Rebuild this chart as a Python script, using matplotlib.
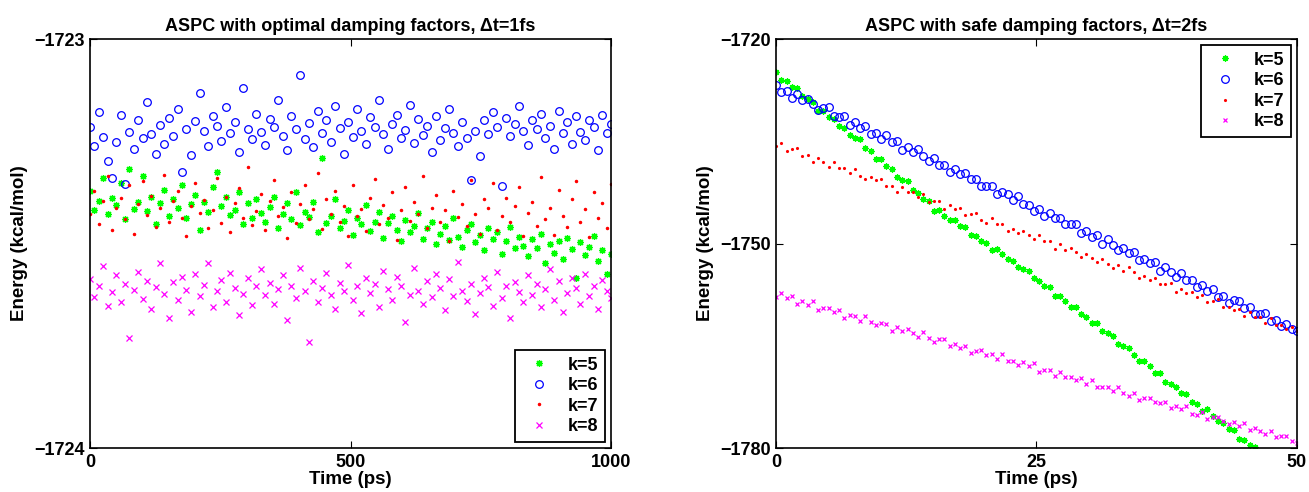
import numpy as np
import matplotlib.pyplot as plt

plt.rcParams['font.family'] = ['Liberation Sans', 'DejaVu Sans']
plt.rcParams['font.weight'] = 'bold'

# ---- left panel: optimal damping, dt = 1 fs (energy, kcal/mol) ----
k5_left = [-1723.372, -1723.418, -1723.395, -1723.341, -1723.427, -1723.388, -1723.406, -1723.352, -1723.441, -1723.318,
           -1723.415, -1723.398, -1723.334, -1723.421, -1723.386, -1723.452, -1723.402, -1723.369, -1723.433, -1723.391,
           -1723.412, -1723.357, -1723.438, -1723.404, -1723.381, -1723.466, -1723.398, -1723.423, -1723.362, -1723.325,
           -1723.409, -1723.387, -1723.431, -1723.418, -1723.373, -1723.452, -1723.402, -1723.437, -1723.392, -1723.425,
           -1723.448, -1723.411, -1723.386, -1723.463, -1723.429, -1723.402, -1723.441, -1723.374, -1723.455, -1723.423,
           -1723.436, -1723.398, -1723.472, -1723.290, -1723.449, -1723.432, -1723.391, -1723.461, -1723.444, -1723.419,
           -1723.478, -1723.437, -1723.452, -1723.406, -1723.469, -1723.448, -1723.424, -1723.487, -1723.451, -1723.433,
           -1723.466, -1723.495, -1723.442, -1723.471, -1723.458, -1723.425, -1723.489, -1723.463, -1723.447, -1723.502,
           -1723.476, -1723.458, -1723.491, -1723.437, -1723.484, -1723.509, -1723.468, -1723.452, -1723.497, -1723.479,
           -1723.515, -1723.463, -1723.488, -1723.471, -1723.526, -1723.494, -1723.459, -1723.512, -1723.483, -1723.505,
           -1723.531, -1723.489, -1723.512, -1723.476, -1723.547, -1723.501, -1723.523, -1723.495, -1723.538, -1723.486,
           -1723.514, -1723.585, -1723.497, -1723.528, -1723.509, -1723.481, -1723.543, -1723.516, -1723.575, -1723.526]
k6_left = [-1723.215, -1723.262, -1723.178, -1723.240, -1723.298, -1723.340, -1723.251, -1723.186, -1723.355, -1723.227,
           -1723.268, -1723.199, -1723.243, -1723.155, -1723.232, -1723.281, -1723.210, -1723.257, -1723.192, -1723.236,
           -1723.171, -1723.325, -1723.219, -1723.284, -1723.201, -1723.133, -1723.226, -1723.262, -1723.188, -1723.213,
           -1723.250, -1723.167, -1723.231, -1723.204, -1723.276, -1723.120, -1723.219, -1723.245, -1723.183, -1723.228,
           -1723.258, -1723.196, -1723.214, -1723.150, -1723.237, -1723.272, -1723.188, -1723.221, -1723.088, -1723.244,
           -1723.206, -1723.263, -1723.175, -1723.229, -1723.199, -1723.252, -1723.164, -1723.218, -1723.281, -1723.203,
           -1723.239, -1723.172, -1723.226, -1723.257, -1723.191, -1723.214, -1723.148, -1723.233, -1723.269, -1723.207,
           -1723.185, -1723.242, -1723.223, -1723.161, -1723.254, -1723.196, -1723.235, -1723.212, -1723.277, -1723.189,
           -1723.246, -1723.218, -1723.171, -1723.229, -1723.262, -1723.203, -1723.241, -1723.345, -1723.224, -1723.287,
           -1723.199, -1723.233, -1723.178, -1723.216, -1723.360, -1723.192, -1723.238, -1723.208, -1723.163, -1723.226,
           -1723.259, -1723.197, -1723.221, -1723.184, -1723.243, -1723.212, -1723.268, -1723.175, -1723.231, -1723.204,
           -1723.256, -1723.189, -1723.227, -1723.246, -1723.198, -1723.214, -1723.271, -1723.185, -1723.229, -1723.208]
k7_left = [-1723.428, -1723.371, -1723.452, -1723.395, -1723.336, -1723.467, -1723.412, -1723.389, -1723.441, -1723.358,
           -1723.476, -1723.403, -1723.347, -1723.431, -1723.385, -1723.459, -1723.414, -1723.332, -1723.448, -1723.396,
           -1723.372, -1723.437, -1723.481, -1723.409, -1723.353, -1723.426, -1723.394, -1723.462, -1723.418, -1723.341,
           -1723.449, -1723.387, -1723.473, -1723.402, -1723.364, -1723.437, -1723.312, -1723.455, -1723.421, -1723.380,
           -1723.468, -1723.397, -1723.344, -1723.432, -1723.410, -1723.486, -1723.375, -1723.451, -1723.403, -1723.358,
           -1723.439, -1723.416, -1723.327, -1723.464, -1723.392, -1723.428, -1723.371, -1723.447, -1723.409, -1723.482,
           -1723.356, -1723.433, -1723.415, -1723.469, -1723.388, -1723.342, -1723.452, -1723.406, -1723.437, -1723.374,
           -1723.491, -1723.418, -1723.361, -1723.445, -1723.399, -1723.427, -1723.336, -1723.463, -1723.412, -1723.381,
           -1723.448, -1723.419, -1723.495, -1723.372, -1723.436, -1723.403, -1723.458, -1723.345, -1723.427, -1723.477,
           -1723.391, -1723.414, -1723.353, -1723.466, -1723.432, -1723.388, -1723.447, -1723.409, -1723.362, -1723.481,
           -1723.425, -1723.398, -1723.456, -1723.337, -1723.441, -1723.412, -1723.478, -1723.369, -1723.433, -1723.459,
           -1723.392, -1723.347, -1723.448, -1723.416, -1723.484, -1723.374, -1723.438, -1723.402, -1723.463, -1723.355]
k8_left = [-1723.587, -1723.631, -1723.604, -1723.556, -1723.652, -1723.619, -1723.578, -1723.642, -1723.598, -1723.731,
           -1723.613, -1723.569, -1723.636, -1723.592, -1723.661, -1723.607, -1723.548, -1723.624, -1723.683, -1723.595,
           -1723.638, -1723.582, -1723.613, -1723.667, -1723.574, -1723.629, -1723.601, -1723.548, -1723.656, -1723.617,
           -1723.590, -1723.642, -1723.571, -1723.608, -1723.676, -1723.623, -1723.585, -1723.651, -1723.604, -1723.563,
           -1723.627, -1723.596, -1723.649, -1723.612, -1723.578, -1723.688, -1723.605, -1723.633, -1723.559, -1723.617,
           -1723.742, -1723.591, -1723.644, -1723.608, -1723.572, -1723.626, -1723.661, -1723.597, -1723.615, -1723.552,
           -1723.638, -1723.603, -1723.671, -1723.584, -1723.622, -1723.598, -1723.655, -1723.567, -1723.612, -1723.639,
           -1723.581, -1723.604, -1723.693, -1723.627, -1723.559, -1723.616, -1723.648, -1723.592, -1723.631, -1723.574,
           -1723.609, -1723.662, -1723.587, -1723.628, -1723.546, -1723.615, -1723.641, -1723.598, -1723.673, -1723.621,
           -1723.584, -1723.607, -1723.652, -1723.569, -1723.633, -1723.605, -1723.682, -1723.594, -1723.618, -1723.643,
           -1723.577, -1723.626, -1723.598, -1723.654, -1723.612, -1723.563, -1723.637, -1723.591, -1723.668, -1723.622,
           -1723.585, -1723.609, -1723.647, -1723.574, -1723.629, -1723.603, -1723.661, -1723.588, -1723.616, -1723.632]

# ---- right panel: safe damping, dt = 2 fs ----
k5_right = [-1724.9, -1726.0, -1726.2, -1727.1, -1727.2, -1728.4, -1728.8, -1729.2, -1730.5, -1730.6,
            -1731.5, -1731.7, -1732.7, -1733.0, -1734.1, -1734.5, -1734.7, -1736.0, -1736.4, -1737.6,
            -1737.6, -1738.7, -1739.1, -1740.3, -1740.7, -1740.9, -1742.2, -1742.6, -1743.5, -1743.8,
            -1745.2, -1745.1, -1745.9, -1746.6, -1746.6, -1747.5, -1747.6, -1748.8, -1748.9, -1749.7,
            -1749.9, -1751.0, -1750.8, -1751.6, -1752.3, -1752.5, -1753.5, -1753.7, -1754.0, -1755.1,
            -1755.5, -1756.2, -1756.4, -1757.7, -1757.7, -1758.4, -1759.3, -1759.3, -1760.3, -1760.8,
            -1761.7, -1761.6, -1762.8, -1763.1, -1763.6, -1764.7, -1765.1, -1765.4, -1766.4, -1767.3,
            -1767.3, -1768.0, -1769.0, -1769.0, -1770.3, -1770.6, -1771.0, -1771.9, -1772.1, -1773.2,
            -1773.5, -1774.5, -1774.3, -1775.3, -1776.1, -1776.3, -1777.2, -1777.4, -1778.7, -1778.8,
            -1779.5, -1779.9]
k6_right = [-1726.7, -1727.8, -1727.6, -1728.7, -1728.0, -1729.0, -1728.8, -1729.6, -1730.4, -1730.1,
            -1730.0, -1731.3, -1731.4, -1731.3, -1732.6, -1732.2, -1733.0, -1732.7, -1733.9, -1733.8,
            -1734.6, -1734.1, -1735.1, -1735.0, -1736.3, -1735.9, -1736.6, -1736.2, -1737.2, -1737.9,
            -1737.5, -1738.5, -1738.5, -1739.5, -1739.0, -1739.8, -1739.6, -1740.6, -1740.6, -1741.5,
            -1741.6, -1741.5, -1742.7, -1742.5, -1742.7, -1743.6, -1743.1, -1744.2, -1744.4, -1745.2,
            -1744.9, -1746.0, -1745.5, -1746.3, -1746.3, -1747.2, -1747.2, -1747.2, -1748.4, -1748.2,
            -1749.0, -1748.8, -1750.1, -1749.4, -1750.2, -1750.9, -1750.7, -1751.4, -1751.2, -1752.4,
            -1752.3, -1752.9, -1752.7, -1754.0, -1753.5, -1754.2, -1754.9, -1754.3, -1755.4, -1755.4,
            -1756.4, -1756.1, -1756.9, -1756.6, -1757.8, -1757.7, -1758.7, -1758.3, -1758.5, -1759.4,
            -1759.3, -1760.4, -1760.4, -1760.2, -1761.3, -1761.2, -1762.1, -1761.8, -1762.6, -1762.8]
k7_right = [-1735.7, -1735.3, -1736.5, -1736.2, -1736.0, -1737.2, -1737.0, -1738.0, -1737.4, -1738.0,
            -1738.8, -1738.1, -1738.9, -1738.9, -1739.7, -1739.0, -1740.1, -1740.6, -1740.2, -1740.7,
            -1740.5, -1741.6, -1741.6, -1742.5, -1741.7, -1742.5, -1742.5, -1743.2, -1742.7, -1743.9,
            -1743.7, -1743.8, -1744.9, -1744.4, -1745.0, -1744.8, -1745.8, -1745.7, -1745.5, -1746.5,
            -1747.0, -1746.2, -1747.2, -1747.1, -1748.2, -1747.9, -1748.4, -1748.1, -1748.8, -1749.4,
            -1748.8, -1749.7, -1749.7, -1750.8, -1750.1, -1750.9, -1750.6, -1751.2, -1752.0, -1751.6,
            -1752.1, -1752.7, -1752.2, -1753.0, -1753.6, -1753.2, -1754.0, -1753.4, -1754.2, -1755.1,
            -1754.7, -1755.3, -1755.0, -1756.0, -1756.0, -1755.8, -1757.1, -1756.6, -1757.2, -1757.1,
            -1757.8, -1757.5, -1758.6, -1758.4, -1758.2, -1759.3, -1759.3, -1759.8, -1759.6, -1760.6,
            -1760.0, -1760.8, -1760.8, -1761.6, -1761.0, -1762.0, -1762.0, -1762.6, -1762.3, -1762.9]
k8_right = [-1757.8, -1757.3, -1758.0, -1757.7, -1758.8, -1758.4, -1759.0, -1758.4, -1759.7, -1759.4,
            -1759.4, -1760.1, -1759.7, -1760.9, -1760.5, -1760.6, -1761.3, -1760.7, -1761.5, -1762.0,
            -1761.7, -1761.8, -1762.8, -1762.3, -1762.9, -1762.5, -1763.1, -1763.7, -1763.0, -1763.9,
            -1764.4, -1764.0, -1764.0, -1765.0, -1764.8, -1765.3, -1765.0, -1766.0, -1765.8, -1765.6,
            -1766.3, -1766.2, -1767.0, -1766.2, -1767.3, -1767.2, -1767.8, -1767.4, -1768.0, -1767.6,
            -1768.9, -1768.6, -1768.6, -1769.4, -1768.8, -1769.6, -1769.6, -1770.0, -1769.8, -1770.6,
            -1770.0, -1771.1, -1771.0, -1771.0, -1771.6, -1771.0, -1771.9, -1772.4, -1771.9, -1773.0,
            -1772.6, -1772.6, -1773.3, -1773.4, -1773.2, -1774.2, -1773.8, -1774.3, -1773.9, -1775.0,
            -1775.1, -1774.7, -1775.8, -1775.4, -1775.4, -1776.0, -1776.5, -1776.2, -1776.7, -1776.3,
            -1777.4, -1777.1, -1777.5, -1777.9, -1777.5, -1778.4, -1778.3, -1778.3, -1778.9, -1779.2]

labels = ['k=5', 'k=6', 'k=7', 'k=8']
colors = ['#00ff00', '#0000ff', '#ff0000', '#ff00ff']

t_left = np.linspace(0, 1000, len(k6_left))
t_right = np.linspace(0, 50, len(k6_right))

fig = plt.figure(figsize=(13.09, 4.92), dpi=100)
ax1 = fig.add_axes([0.0688, 0.0894, 0.398, 0.8313])
ax2 = fig.add_axes([0.5928, 0.0894, 0.398, 0.8313])


def draw(ax, t, series, sizes):
    styles = [dict(marker=(8, 2, 0), ms=sizes[0], mew=0.9, ls='none'),
              dict(marker='o', ms=sizes[1], mfc='none', mew=0.9, ls='none'),
              dict(marker='.', ms=sizes[2], ls='none'),
              dict(marker='x', ms=sizes[3], mew=0.9, ls='none')]
    for y, lab, c, st in zip(series, labels, colors, styles):
        ax.plot(t[:len(y)], y, color=c, label=lab, **st)


draw(ax1, t_left, [k5_left, k6_left, k7_left, k8_left], [5, 5.5, 3, 3.8])
draw(ax2, t_right, [k5_right, k6_right, k7_right, k8_right], [4.5, 5.5, 2.5, 3.5])

ax1.set_xlim(0, 1000)
ax1.set_ylim(-1724, -1723)
ax1.set_xticks([0, 500, 1000])
ax1.set_yticks([-1724, -1723])
ax1.set_title('ASPC with optimal damping factors, Δt=1fs', fontsize=13, fontweight='bold')
ax1.legend(loc='lower right', fontsize=13, labelspacing=0.2, borderpad=0.35,
           handletextpad=0.6, borderaxespad=0.35)

ax2.set_xlim(0, 50)
ax2.set_ylim(-1780, -1720)
ax2.set_xticks([0, 25, 50])
ax2.set_yticks([-1780, -1750, -1720])
ax2.set_title('ASPC with safe damping factors, Δt=2fs', fontsize=13, fontweight='bold')
ax2.legend(loc='upper right', fontsize=13, labelspacing=0.2, borderpad=0.35,
           handletextpad=0.6, borderaxespad=0.35)

for ax in (ax1, ax2):
    ax.set_xlabel('Time (ps)', fontsize=13.5, fontweight='bold', labelpad=0)
    ax.set_ylabel('Energy (kcal/mol)', fontsize=13.5, fontweight='bold')
    ax.tick_params(direction='in', top=True, right=True, length=5, labelsize=13, pad=4)
    for s in ax.spines.values():
        s.set_linewidth(1.2)
    ax.yaxis.get_major_formatter().set_useOffset(False)
    leg = ax.get_legend()
    leg.get_frame().set_edgecolor('black')
    leg.get_frame().set_linewidth(1.3)
    leg.get_frame().set_boxstyle('square', pad=0)
    leg.get_frame().set_alpha(1)

plt.savefig('out.png', dpi=100)
